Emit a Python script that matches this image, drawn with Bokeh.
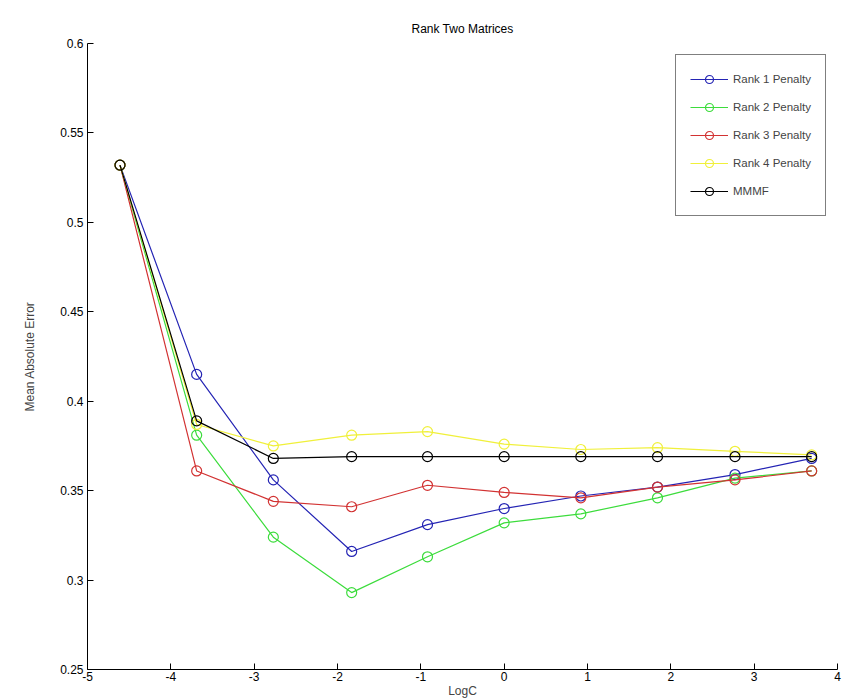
from bokeh.plotting import figure
from bokeh.models import FixedTicker, Range1d, Legend, LegendItem
from bokeh.embed import file_html
from bokeh.resources import INLINE

# ---- data ----
log_c = [-4.61, -3.69, -2.77, -1.83, -0.92, 0.0, 0.92, 1.84, 2.77, 3.69]
rank1 = [0.532, 0.415, 0.356, 0.316, 0.331, 0.340, 0.347, 0.352, 0.359, 0.368]
rank2 = [0.532, 0.381, 0.324, 0.293, 0.313, 0.332, 0.337, 0.346, 0.357, 0.361]
rank3 = [0.532, 0.361, 0.344, 0.341, 0.353, 0.349, 0.346, 0.352, 0.356, 0.361]
rank4 = [0.532, 0.387, 0.375, 0.381, 0.383, 0.376, 0.373, 0.374, 0.372, 0.370]
mmmf = [0.532, 0.389, 0.368, 0.369, 0.369, 0.369, 0.369, 0.369, 0.369, 0.369]

series_names = ["Rank 1 Penalty", "Rank 2 Penalty", "Rank 3 Penalty", "Rank 4 Penalty", "MMMF"]
series_values = [rank1, rank2, rank3, rank4, mmmf]
series_colors = ["#2424b4", "#3cdc3c", "#d23232", "#f0f03a", "#000000"]

x_ticks = [-5, -4, -3, -2, -1, 0, 1, 2, 3, 4]
x_tick_labels = ["-5", "-4", "-3", "-2", "-1", "0", "1", "2", "3", "4"]
y_ticks = [0.25, 0.3, 0.35, 0.4, 0.45, 0.5, 0.55, 0.6]
y_tick_labels = ["0.25", "0.3", "0.35", "0.4", "0.45", "0.5", "0.55", "0.6"]

FONT = "Liberation Sans"

p = figure(width=846, height=700, output_backend="svg", toolbar_location=None,
           x_range=Range1d(-5, 4), y_range=Range1d(0.25, 0.6),
           min_border_left=87, min_border_right=9, min_border_top=43, min_border_bottom=28,
           title="Rank Two Matrices")
p.outline_line_color = None
p.grid.visible = False
p.background_fill_color = "white"
p.border_fill_color = "white"

p.title.align = "center"
p.title.text_font = FONT
p.title.text_font_size = "12px"
p.title.text_font_style = "normal"
p.title.text_color = "#000000"
p.title.standoff = 16

for ax in (p.xaxis, p.yaxis):
    ax.major_tick_in = 6
    ax.major_tick_out = 0
    ax.minor_tick_in = 0
    ax.minor_tick_out = 0
    ax.axis_line_color = "black"
    ax.major_tick_line_color = "black"
    ax.major_label_text_font = FONT
    ax.major_label_text_font_size = "12px"
    ax.major_label_text_color = "black"
    ax.axis_label_text_font = FONT
    ax.axis_label_text_font_size = "12px"
    ax.axis_label_text_font_style = "normal"

p.xaxis.ticker = FixedTicker(ticks=x_ticks)
p.xaxis.major_label_overrides = {t: l for t, l in zip(x_ticks, x_tick_labels)}
p.xaxis.major_label_standoff = 2
p.xaxis.axis_label = "LogC"
p.xaxis.axis_label_standoff = 0

p.yaxis.ticker = FixedTicker(ticks=y_ticks)
p.yaxis.major_label_overrides = {t: l for t, l in zip(y_ticks, y_tick_labels)}
p.yaxis.major_label_standoff = 4
p.yaxis.axis_label = "Mean Absolute Error"
p.yaxis.axis_label_standoff = 20

items = []
for name, vals, col in zip(series_names, series_values, series_colors):
    r1 = p.line(log_c, vals, line_color=col, line_width=1.2)
    r2 = p.scatter(log_c, vals, marker="circle", size=10, fill_color=None,
                   line_color=col, line_width=1.2)
    items.append(LegendItem(label=name, renderers=[r1, r2]))

legend = Legend(items=items, location="top_right", margin=11, padding=14,
                spacing=8, glyph_width=38, glyph_height=20, label_standoff=5,
                label_text_font=FONT, label_text_font_size="11.5px",
                border_line_color="black", border_line_width=1,
                background_fill_alpha=1.0)
p.add_layout(legend, "center")

open("out.html", "w").write(file_html(p, INLINE))
